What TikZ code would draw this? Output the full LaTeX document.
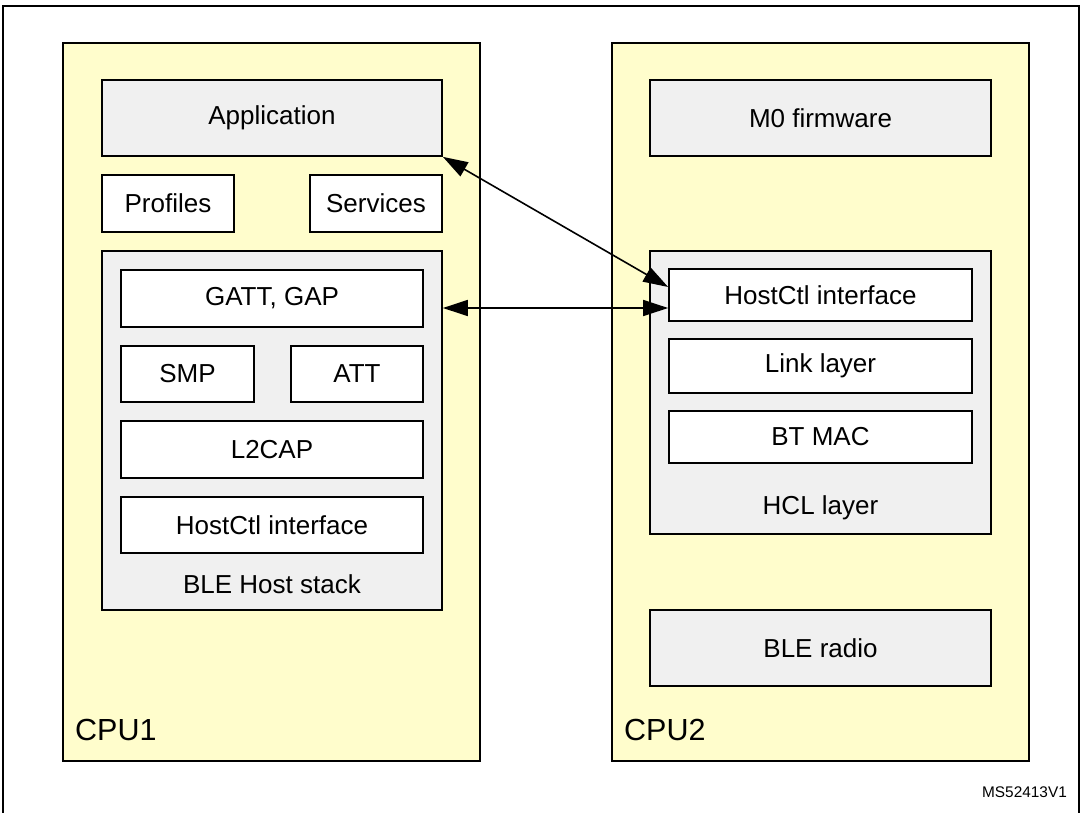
\documentclass[tikz,border=0pt]{standalone}
\usepackage{fontspec}
\setmainfont{Liberation Sans}
\usetikzlibrary{arrows.meta}
\definecolor{cpuyellow}{HTML}{FFFDCC}
\definecolor{boxgray}{HTML}{F0F0F0}
\tikzset{
  base/.style={draw=black, line width=1.7pt, inner sep=0pt, align=center, font=\fontsize{26}{31}\selectfont},
  cpubox/.style={base, fill=cpuyellow},
  graybox/.style={base, fill=boxgray},
  whitebox/.style={base, fill=white},
  cpulabel/.style={anchor=west, inner sep=0pt, font=\fontsize{30.5}{36}\selectfont},
  innerlabel/.style={inner sep=0pt, font=\fontsize{26}{31}\selectfont},
  link/.style={line width=1.6pt, {Triangle[length=25pt,width=16pt]}-{Triangle[length=25pt,width=16pt]}}
}
\begin{document}
\begin{tikzpicture}[x=1pt, y=-1pt]
\useasboundingbox (0,0) rectangle (1082,812);
\clip (0,0) rectangle (1082,812);
\fill[white] (0,0) rectangle (1082,812);
\draw[line width=2pt] (3,6) rectangle (1079,840);

% CPU containers
\node[cpubox, minimum width=417pt, minimum height=718pt] (cpu1) at (271.5,402) {};
\node[cpubox, minimum width=417pt, minimum height=718pt] (cpu2) at (820.5,402) {};
\node[cpulabel] (cpu1lbl) at (75,730) {CPU1};
\node[cpulabel] (cpu2lbl) at (624,730) {CPU2};

% CPU1 contents
\node[graybox, minimum width=340pt, minimum height=76pt] (app) at (272,118) {Application};
\node[whitebox, minimum width=132pt, minimum height=57pt] (profiles) at (168,203.5) {Profiles};
\node[whitebox, minimum width=132pt, minimum height=57pt] (services) at (376,203.5) {Services};
\node[graybox, minimum width=340pt, minimum height=359pt] (bhs) at (272,430.5) {};
\node[innerlabel] (bhslbl) at (272,584) {BLE Host stack};
\node[whitebox, minimum width=302pt, minimum height=57pt] (gatt) at (272,298.5) {GATT, GAP};
\node[whitebox, minimum width=133pt, minimum height=56pt] (smp) at (187.5,374) {SMP};
\node[whitebox, minimum width=132pt, minimum height=56pt] (att) at (357,374) {ATT};
\node[whitebox, minimum width=302pt, minimum height=57pt] (l2cap) at (272,449.5) {L2CAP};
\node[whitebox, minimum width=302pt, minimum height=56pt] (hc1) at (272,525) {HostCtl interface};

% CPU2 contents
\node[graybox, minimum width=341pt, minimum height=76pt] (m0) at (820.5,118) {M0 firmware};
\node[graybox, minimum width=341pt, minimum height=283pt] (hcl) at (820.5,392.5) {};
\node[innerlabel] (hcllbl) at (820.5,508) {HCL layer};
\node[whitebox, minimum width=303pt, minimum height=52pt] (hc2) at (820.5,295) {HostCtl interface};
\node[whitebox, minimum width=303pt, minimum height=54pt] (ll) at (820.5,366) {Link layer};
\node[whitebox, minimum width=303pt, minimum height=52pt] (btmac) at (820.5,437) {BT MAC};
\node[graybox, minimum width=341pt, minimum height=76pt] (radio) at (820.5,648) {BLE radio};

% connectors
\coordinate (diagend) at ([yshift=8pt]hc2.west);
\coordinate (horend) at ([yshift=-13pt]hc2.west);
\draw[link] (app.south east) -- (diagend);
\draw[link] (bhs.east |- horend) -- (horend);

\node[inner sep=0pt, font=\fontsize{15.4}{18}\selectfont] (ref) at (1024.5,792) {MS52413V1};
\end{tikzpicture}
\end{document}
